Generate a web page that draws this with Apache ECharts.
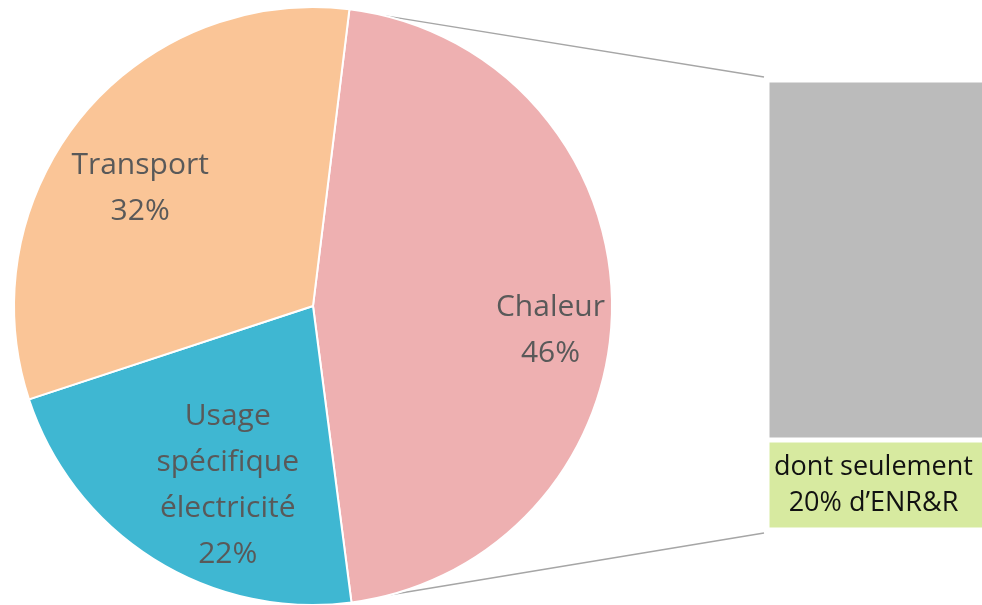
<!doctype html>
<html>
<head>
    <meta charset="utf-8" />
    <title>Consommation d'énergie</title>
    <script src="https://cdn.jsdelivr.net/npm/echarts@6/dist/echarts.min.js"></script>
    <style>
        html, body { margin: 0; padding: 0; background: #fff; }
        #main { width: 982px; height: 605px; }
    </style>
</head>
<body>
<div id="main"></div>
<script type="text/javascript">
    // donnees
    var usages = ['Chaleur', 'Usage\nspécifique\nélectricité', 'Transport'];
    var parts = [46, 22, 32];
    var couleurs = ['#EEB0B1', '#3FB7D2', '#FAC597'];

    // detail de la chaleur (barre de droite)
    var detailNoms = ['ENR&R', 'autres'];
    var detailParts = [20, 80];
    var detailCouleurs = ['#D7EAA0', '#BBBBBB'];

    // decalage des etiquettes par rapport a la position "inside"
    var decalages = [[85, 25], [-4, 50], [-55, -21]];

    var centre = [313, 306];
    var rayon = 299;

    var myChart = echarts.init(document.getElementById('main'), null, { renderer: 'canvas' });

    var pieData = usages.map(function (nom, i) {
        return {
            name: nom,
            value: parts[i],
            itemStyle: { color: couleurs[i] },
            label: { offset: decalages[i] }
        };
    });

    var barSeries = detailNoms.map(function (nom, i) {
        return {
            name: nom,
            type: 'bar',
            stack: 'detail',
            barWidth: '100%',
            silent: true,
            itemStyle: { color: detailCouleurs[i], borderColor: '#fff', borderWidth: 2.5 },
            label: {
                show: i === 0,
                position: 'inside',
                offset: [-5, 0],
                formatter: 'dont seulement\n{c}% d\u2019ENR&R',
                color: '#111',
                fontSize: 27,
                lineHeight: 36,
                fontFamily: 'Open Sans'
            },
            data: [detailParts[i]]
        };
    });

    var option = {
        animation: false,
        backgroundColor: '#fff',
        grid: { left: 767, right: -8, top: 80, bottom: 75, outerBoundsMode: 'none', containLabel: false },
        xAxis: { type: 'category', data: ['Chaleur'], show: false },
        yAxis: { type: 'value', min: 0, max: 100, show: false },
        series: [{
            type: 'pie',
            center: centre,
            radius: [0, rayon],
            startAngle: 83,
            clockwise: true,
            silent: true,
            itemStyle: { borderColor: '#fff', borderWidth: 2 },
            label: {
                show: true,
                position: 'inside',
                formatter: '{b}\n{d}%',
                color: '#595959',
                fontSize: 30,
                lineHeight: 46,
                fontFamily: 'Open Sans'
            },
            labelLine: { show: false },
            data: pieData
        }].concat(barSeries)
    };
    myChart.setOption(option);

    // traits de liaison entre le camembert et la barre
    var haut = myChart.convertToPixel({ gridIndex: 0 }, [0, 100]);
    var bas = myChart.convertToPixel({ gridIndex: 0 }, [0, 0]);
    var gauche = 767 - 3;
    function bord(angle) {
        var a = angle * Math.PI / 180;
        return [centre[0] + rayon * Math.cos(a), centre[1] - rayon * Math.sin(a)];
    }
    var p1 = bord(76), p2 = bord(-75);
    myChart.setOption({
        graphic: [{
            type: 'line',
            silent: true,
            shape: { x1: p1[0], y1: p1[1], x2: gauche, y2: haut[1] - 3 },
            style: { stroke: '#A6A6A6', lineWidth: 1.5 }
        }, {
            type: 'line',
            silent: true,
            shape: { x1: p2[0], y1: p2[1], x2: gauche, y2: bas[1] + 3 },
            style: { stroke: '#A6A6A6', lineWidth: 1.5 }
        }]
    });
</script>
</body>
</html>
